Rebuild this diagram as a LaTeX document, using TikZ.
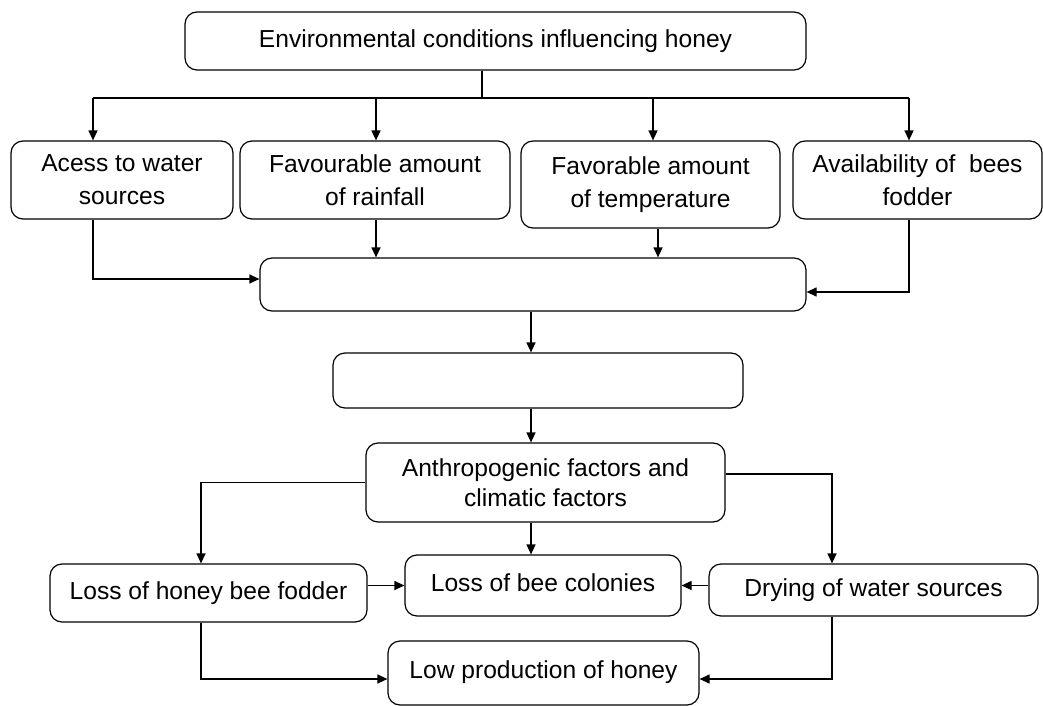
\documentclass[tikz,border=0pt]{standalone}
\usepackage{fontspec}
\setmainfont{Liberation Sans}
\usetikzlibrary{arrows.meta}

\begin{document}
\begin{tikzpicture}[x=0.5pt,y=-0.5pt,
    box/.style={draw, rounded corners=6pt, line width=0.6pt, align=center, inner sep=0pt,
        font=\fontsize{12.3}{14.8}\selectfont},
    tall/.style={font=\fontsize{12.3}{16.5}\selectfont},
    arr/.style={line width=0.6pt, -{Triangle[length=5pt,width=4.5pt]}},
    link/.style={line width=0.6pt}]
        \useasboundingbox (0,0) rectangle (1043,706);

        % boxes
        \node[box, minimum width=310.5pt, minimum height=29pt] (env) at (495.5,41) {Environmental conditions influencing honey};
        \node[box, tall, minimum width=111pt, minimum height=39pt] (acess) at (122,180) {Acess to water\\sources};
        \node[box, tall, minimum width=135pt, minimum height=39pt] (rain) at (375,180) {Favourable amount\\of rainfall};
        \node[box, tall, minimum width=129.5pt, minimum height=43.5pt] (temp) at (650.5,184.5) {Favorable amount\\of temperature};
        \node[box, tall, minimum width=124.5pt, minimum height=39pt] (avail) at (917.5,180) {Availability of~ bees\\fodder};
        \node[box, minimum width=273pt, minimum height=26.5pt] (blank1) at (533,284.5) {};
        \node[box, minimum width=205pt, minimum height=27.5pt] (blank2) at (538,380.5) {};
        \node[box, minimum width=179.5pt, minimum height=39.5pt] (anthro) at (545.5,482.5) {Anthropogenic factors and\\climatic factors};
        \node[box, minimum width=158.5pt, minimum height=29pt] (fodder) at (208.5,593) {Loss of honey bee fodder};
        \node[box, minimum width=138pt, minimum height=30.5pt] (colonies) at (543,585.5) {\raisebox{2.5pt}{Loss of bee colonies}};
        \node[box, minimum width=164.5pt, minimum height=26pt] (drying) at (873.5,590) {Drying of water sources};
        \node[box, minimum width=155.5pt, minimum height=32pt] (low) at (543.5,673) {\raisebox{3pt}{Low production of honey}};

        % columns of the connectors
        \coordinate (split) at (482,98);
        \coordinate (c1) at (93,98);
        \coordinate (c2) at (376,98);
        \coordinate (c3) at (653,98);
        \coordinate (c4) at (909,98);
        \coordinate (c5) at (531,0);
        \coordinate (c6) at (201,0);
        \coordinate (c7) at (832,0);

        \draw[link] (env.south -| split) -- (split);
        \draw[link] (c1) -- (c4);
        \draw[arr] (c1) -- (c1 |- acess.north);
        \draw[arr] (c2) -- (c2 |- rain.north);
        \draw[arr] (c3) -- (c3 |- temp.north);
        \draw[arr] (c4) -- (c4 |- avail.north);

        \draw[arr] (acess.south -| c1) |- ([yshift=2.75pt]blank1.west);
        \draw[arr] (rain.south -| c2) -- (blank1.north -| c2);
        \draw[arr] ([xshift=3.75pt]temp.south) -- ([xshift=3.75pt]temp.south |- blank1.north);
        \draw[arr] (avail.south -| c4) |- ([yshift=-3.75pt]blank1.east);

        \draw[arr] (blank1.south -| c5) -- (blank2.north -| c5);
        \draw[arr] (blank2.south -| c5) -- (anthro.north -| c5);

        \draw[arr] (anthro.west) -| (fodder.north -| c6);
        \draw[arr] (anthro.south -| c5) -- (colonies.north -| c5);
        \draw[arr] ([yshift=4.25pt]anthro.east) -| (drying.north -| c7);

        \draw[arr] (colonies.west -| fodder.east) -- (colonies.west);
        \draw[arr] (colonies.east -| drying.west) -- (colonies.east);

        \draw[arr] (fodder.south -| c6) |- ([yshift=-3pt]low.west);
        \draw[arr] (drying.south -| c7) |- ([yshift=-3pt]low.east);

    \end{tikzpicture}
\end{document}
